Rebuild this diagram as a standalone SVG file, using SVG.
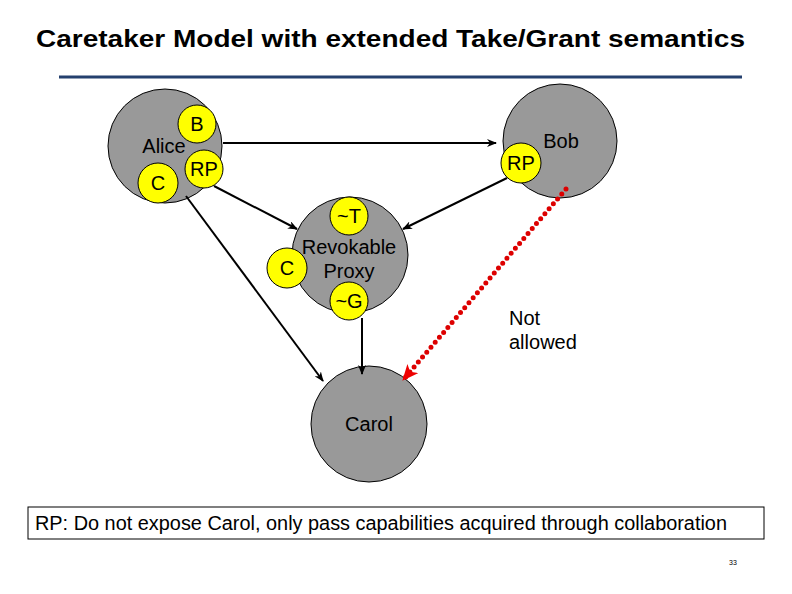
<svg xmlns="http://www.w3.org/2000/svg" width="792" height="594" viewBox="0 0 792 594">
<style>
text{font-family:"Liberation Sans",Arial,sans-serif;fill:#000}
.big{fill:#999999;stroke:#000;stroke-width:1}
.cap{fill:#ffff00;stroke:#000;stroke-width:1}
.lbl{font-size:20px;text-anchor:middle}
.edge{stroke:#000;stroke-width:2;fill:none;marker-end:url(#ah)}
.deny{stroke:#dd0000;stroke-width:5;fill:none;stroke-dasharray:0 6.5;stroke-linecap:round;marker-end:url(#rh)}
</style>
<defs>
<marker id="ah" markerWidth="10" markerHeight="8" refX="9" refY="4" orient="auto" markerUnits="userSpaceOnUse">
<path d="M0,0 L10,4 L0,8 L3,4 Z" fill="#000"/>
</marker>
<marker id="rh" markerWidth="16" markerHeight="14" refX="15" refY="7" orient="auto" markerUnits="userSpaceOnUse">
<path d="M0,0 L16,7 L0,14 L4,7 Z" fill="#ee0000"/>
</marker>
</defs>
<rect width="792" height="594" fill="#fff"/>
<text x="36" y="47" font-size="23" font-weight="bold" textLength="709" lengthAdjust="spacingAndGlyphs">Caretaker Model with extended Take/Grant semantics</text>
<line x1="59" y1="77" x2="742" y2="77" stroke="#24406e" stroke-width="3"/>

<g id="alice">
<circle class="big" cx="165" cy="146" r="57"/>
<text class="lbl" x="164" y="153">Alice</text>
</g>
<g id="bob">
<circle class="big" cx="560" cy="141" r="57"/>
<text class="lbl" x="561" y="148">Bob</text>
</g>
<g id="proxy">
<circle class="big" cx="350" cy="255" r="58"/>
<text class="lbl" x="349" y="254">Revokable</text>
<text class="lbl" x="349" y="278">Proxy</text>
</g>
<g id="carol">
<circle class="big" cx="369" cy="424" r="58"/>
<text class="lbl" x="369" y="431">Carol</text>
</g>

<g id="connectors">
<line class="edge" x1="223" y1="143" x2="496" y2="143"/>
<line class="edge" x1="214" y1="186" x2="297" y2="229"/>
<line class="edge" x1="507" y1="178" x2="403" y2="229"/>
<line class="edge" x1="186" y1="196" x2="323" y2="381"/>
<line class="edge" x1="362" y1="318" x2="362" y2="374"/>
<line class="deny" x1="566" y1="189" x2="403" y2="380"/>
</g>

<g id="alice-b">
<circle class="cap" cx="197" cy="124" r="19"/>
<text class="lbl" x="197" y="131">B</text>
</g>
<g id="alice-rp">
<circle class="cap" cx="204" cy="169" r="19"/>
<text class="lbl" x="204" y="176">RP</text>
</g>
<g id="alice-c">
<circle class="cap" cx="158" cy="183" r="20"/>
<text class="lbl" x="158" y="190">C</text>
</g>
<g id="bob-rp">
<circle class="cap" cx="521" cy="163" r="20"/>
<text class="lbl" x="521" y="170">RP</text>
</g>
<g id="proxy-t">
<circle class="cap" cx="349" cy="216" r="19"/>
<text class="lbl" x="349" y="223">~T</text>
</g>
<g id="proxy-c">
<circle class="cap" cx="287" cy="268" r="20"/>
<text class="lbl" x="287" y="275">C</text>
</g>
<g id="proxy-g">
<circle class="cap" cx="349" cy="301" r="19"/>
<text class="lbl" x="349" y="308">~G</text>
</g>

<g id="not-allowed">
<text x="509" y="325" font-size="20">Not</text>
<text x="509" y="349" font-size="20">allowed</text>
</g>

<g id="note">
<rect x="28" y="507" width="736" height="32" fill="#fff" stroke="#000" stroke-width="1"/>
<text x="35" y="530" font-size="20" textLength="692" lengthAdjust="spacingAndGlyphs">RP: Do not expose Carol, only pass capabilities acquired through collaboration</text>
</g>
<text x="733" y="565" font-size="7" text-anchor="middle">33</text>
</svg>
